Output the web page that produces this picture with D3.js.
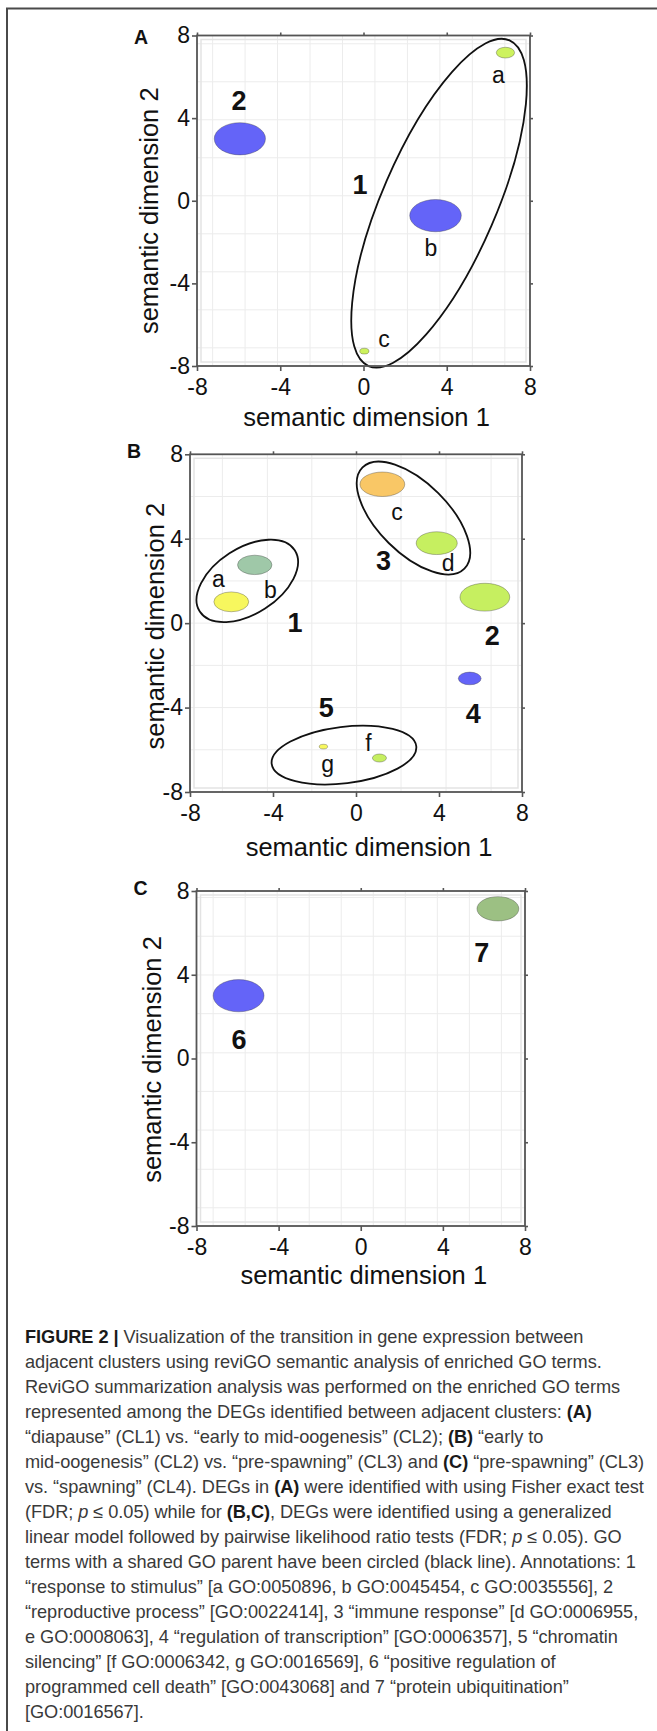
<!DOCTYPE html>
<html>
<head>
<meta charset="utf-8">
<script src="https://cdn.jsdelivr.net/npm/d3@7"></script>
<style>
  body { margin: 0; background: #fff; }
  svg { display: block; }
  text { font-family: "Liberation Sans", Arial, Helvetica, sans-serif; }
</style>
</head>
<body>
<div id="chart"></div>
<script>
const ticks = [-8, -4, 0, 4, 8];
const xTitle = "semantic dimension 1";
const yTitle = "semantic dimension 2";

// ---- panel A: CL1 vs CL2
const aTermX = [6.82, 3.46, 0.04, -5.94];
const aTermY = [7.17, -0.72, -7.28, 3.0];
const aTermW = [0.44, 1.24, 0.22, 1.23];   // bubble half width (semantic units)
const aTermH = [0.26, 0.78, 0.14, 0.78];   // bubble half height
const aColors = ["#cdf25e", "#6464f8", "#cdf25e", "#6464f8"];
const aLabels = ["a", "b", "c", "1", "2"];
const aLabelX = [6.48, 3.24, 0.99, -0.17, -5.98];
const aLabelY = [6.0, -2.28, -6.78, 0.78, 4.85];
const aGroupX = [3.63], aGroupY = [-0.12];
const aGroupA = [8.56], aGroupB = [2.75], aGroupTilt = [66.6];
const aGridX = [-7.25, -5.69, -4.13, -2.57, -1.01, 0.55, 2.11, 3.67, 5.23, 6.79];
const aGridY = [7.6, 5.76, 3.92, 2.08, 0.24, -1.6, -3.44, -5.28, -7.12];

// ---- panel B: CL2 vs CL3
const bTermX = [1.27, 3.89, 6.21, 5.48, -4.88, -6.01, -1.57, 1.13];
const bTermY = [6.58, 3.79, 1.23, -2.62, 2.76, 1.01, -5.85, -6.39];
const bTermW = [1.08, 0.99, 1.2, 0.55, 0.83, 0.84, 0.2, 0.34];
const bTermH = [0.58, 0.54, 0.66, 0.3, 0.46, 0.47, 0.11, 0.19];
const bColors = ["#f9c766", "#c6ef60", "#c6ef60", "#6464f8", "#9fc8a8", "#f7f75e", "#f7f75e", "#c6ef60"];
const bLabels = ["a", "b", "c", "d", "f", "g", "1", "2", "3", "4", "5"];
const bLabelX = [-6.63, -4.13, 1.98, 4.44, 0.6, -1.37, -2.94, 6.57, 1.33, 5.65, -1.43];
const bLabelY = [2.0, 1.58, 5.2, 2.87, -5.65, -6.89, 0.05, -0.58, 2.97, -4.26, -3.97];
const bGroupX = [-5.24, 2.77, -0.58], bGroupY = [2.0, 4.98, -6.25];
const bGroupA = [2.7, 3.43, 3.48], bGroupB = [1.57, 1.68, 1.35], bGroupTilt = [32.8, -44.8, 7];
const bGridX = [-6.44, -4.27, -2.13, 0.03, 2.17, 4.34, 6.51];
const bGridY = [6, 4, 2, 0, -2, -4, -6];

// ---- panel C: CL3 vs CL4
const cTermX = [6.68, -5.95];
const cTermY = [7.15, 3.0];
const cTermW = [1.02, 1.24];
const cTermH = [0.58, 0.77];
const cColors = ["#9cc083", "#6464f8"];
const cLabels = ["7", "6"];
const cLabelX = [5.9, -5.93];
const cLabelY = [5.08, 0.93];
const cGridX = [-7.19, -5.63, -4.07, -2.51, -0.95, 0.61, 2.17, 3.73, 5.29, 6.85];
const cGridY = [7.69, 5.84, 3.99, 2.14, 0.27, -1.57, -3.42, -5.29, -7.13];

const width = 657, height = 1731;

const svg = d3.select("#chart").append("svg")
    .attr("width", width)
    .attr("height", height);

svg.append("rect").attr("width", width).attr("height", height).attr("fill", "#fff");

// page frame (left + top edge only, image is cropped)
svg.append("path")
    .attr("d", "M7," + height + "V8.5H" + width)
    .attr("fill", "none")
    .attr("stroke", "#4a4a4a")
    .attr("stroke-width", 2);

const panels = [
    {
        letter: "A", box: [197, 530, 35.5, 366],
        tx: aTermX, ty: aTermY, tw: aTermW, th: aTermH, colors: aColors,
        labels: aLabels, lx: aLabelX, ly: aLabelY,
        gx: aGroupX, gy: aGroupY, ga: aGroupA, gb: aGroupB, gt: aGroupTilt,
        gridX: aGridX, gridY: aGridY,
        yTitleGap: 39, yTitleShift: 10, xTitleShift: 3, xTitleGap: 60
    },
    {
        letter: "B", box: [190, 522, 454.3, 792],
        tx: bTermX, ty: bTermY, tw: bTermW, th: bTermH, colors: bColors,
        labels: bLabels, lx: bLabelX, ly: bLabelY,
        gx: bGroupX, gy: bGroupY, ga: bGroupA, gb: bGroupB, gt: bGroupTilt,
        gridX: bGridX, gridY: bGridY,
        yTitleGap: 26, yTitleShift: 3, xTitleShift: 13, xTitleGap: 64
    },
    {
        letter: "C", box: [196.5, 525, 891, 1226],
        tx: cTermX, ty: cTermY, tw: cTermW, th: cTermH, colors: cColors,
        labels: cLabels, lx: cLabelX, ly: cLabelY,
        gx: [], gy: [], ga: [], gb: [], gt: [],
        gridX: cGridX, gridY: cGridY,
        yTitleGap: 35.5, yTitleShift: 1, xTitleShift: 3, xTitleGap: 58
    }
];

// vertical offset for centring a glyph on its point
function glyphDy(s) {
    if (!isNaN(+s)) return "0.36em";
    if ("bdf".includes(s)) return "0.37em";
    if (s === "g") return "0.16em";
    return "0.27em";
}

panels.forEach(function (p) {
    const [left, right, top, bottom] = p.box;
    const x = d3.scaleLinear().domain([-8, 8]).range([left, right]);
    const y = d3.scaleLinear().domain([-8, 8]).range([bottom, top]);
    const k = ((x(1) - x(0)) + (y(0) - y(1))) / 2;

    const g = svg.append("g");

    // grid
    g.selectAll(".gx").data(p.gridX).enter().append("line")
        .attr("x1", d => x(d)).attr("x2", d => x(d))
        .attr("y1", top).attr("y2", bottom)
        .attr("stroke", "#ececec").attr("stroke-width", 1);
    g.selectAll(".gy").data(p.gridY).enter().append("line")
        .attr("x1", left).attr("x2", right)
        .attr("y1", d => y(d)).attr("y2", d => y(d))
        .attr("stroke", "#ececec").attr("stroke-width", 1);

    // inner panel border
    g.append("rect")
        .attr("x", left + 4).attr("y", top + 4)
        .attr("width", right - left - 8).attr("height", bottom - top - 8)
        .attr("fill", "none").attr("stroke", "#e3e3e3").attr("stroke-width", 1.5);

    // term bubbles
    const idx = d3.range(p.tx.length);
    g.selectAll(".term").data(idx).enter().append("ellipse")
        .attr("cx", i => x(p.tx[i]))
        .attr("cy", i => y(p.ty[i]))
        .attr("rx", i => p.tw[i] * (x(1) - x(0)))
        .attr("ry", i => p.th[i] * (y(0) - y(1)))
        .attr("fill", i => p.colors[i])
        .attr("stroke", "rgba(60,60,60,0.45)")
        .attr("stroke-width", 0.8);

    // shared GO parent outlines
    g.selectAll(".grp").data(d3.range(p.gx.length)).enter().append("ellipse")
        .attr("cx", i => x(p.gx[i]))
        .attr("cy", i => y(p.gy[i]))
        .attr("rx", i => p.ga[i] * k)
        .attr("ry", i => p.gb[i] * k)
        .attr("transform", i => "rotate(" + (-p.gt[i]) + "," + x(p.gx[i]) + "," + y(p.gy[i]) + ")")
        .attr("fill", "none")
        .attr("stroke", "#111")
        .attr("stroke-width", 1.8);

    // labels
    g.selectAll(".lab").data(p.labels).enter().append("text")
        .attr("x", (d, i) => x(p.lx[i]))
        .attr("y", (d, i) => y(p.ly[i]))
        .attr("dy", d => glyphDy(d))
        .attr("text-anchor", "middle")
        .style("font-size", d => isNaN(+d) ? "23px" : "27px")
        .style("font-weight", d => isNaN(+d) ? "normal" : "bold")
        .attr("fill", "#111")
        .text(d => d);

    // axes on four sides
    const fmt = d => String(d);
    const axes = [
        [d3.axisLeft(y), "translate(" + left + ",0)", true, 2],
        [d3.axisBottom(x), "translate(0," + bottom + ")", true, 8],
        [d3.axisRight(y), "translate(" + right + ",0)", false, 2],
        [d3.axisTop(x), "translate(0," + top + ")", false, 2]
    ];
    axes.forEach(function ([ax, tr, withLabels, pad]) {
        const a = g.append("g").attr("transform", tr)
            .call(ax.tickValues(ticks).tickSize(withLabels ? 5 : 3).tickPadding(pad).tickFormat(fmt));
        a.select(".domain").remove();
        a.selectAll(".tick line").attr("stroke", "#555").attr("stroke-width", 1.6);
        if (withLabels) {
            a.selectAll(".tick text").attr("fill", "#111").style("font-size", "23px");
        } else {
            a.selectAll(".tick text").remove();
        }
    });

    // axis box
    g.append("rect")
        .attr("x", left).attr("y", top)
        .attr("width", right - left).attr("height", bottom - top)
        .attr("fill", "none").attr("stroke", "#555").attr("stroke-width", 1.8);

    // titles
    g.append("text")
        .attr("x", (left + right) / 2 + p.xTitleShift)
        .attr("y", bottom + p.xTitleGap)
        .attr("text-anchor", "middle")
        .style("font-size", "25.5px")
        .attr("fill", "#111")
        .text(xTitle);

    const yc = (top + bottom) / 2 + p.yTitleShift;
    g.append("text")
        .attr("transform", "translate(" + (left - p.yTitleGap) + "," + yc + ") rotate(-90)")
        .attr("text-anchor", "middle")
        .style("font-size", "25.5px")
        .attr("fill", "#111")
        .text(yTitle);

    g.append("text")
        .attr("x", left - 63)
        .attr("y", top + (p.letter === "A" ? 8 : 4))
        .style("font-size", "19.5px")
        .style("font-weight", "bold")
        .attr("fill", "#111")
        .text(p.letter);
});

// ---- caption, line by line as set in the figure (**bold**, _italic_)
const captionLines = [
    "**FIGURE 2 |** Visualization of the transition in gene expression between",
    "adjacent clusters using reviGO semantic analysis of enriched GO terms.",
    "ReviGO summarization analysis was performed on the enriched GO terms",
    "represented among the DEGs identified between adjacent clusters: **(A)**",
    "“diapause” (CL1) vs. “early to mid-oogenesis” (CL2); **(B)** “early to",
    "mid-oogenesis” (CL2) vs. “pre-spawning” (CL3) and **(C)** “pre-spawning” (CL3)",
    "vs. “spawning” (CL4). DEGs in **(A)** were identified with using Fisher exact test",
    "(FDR; _p_ ≤ 0.05) while for **(B,C)**, DEGs were identified using a generalized",
    "linear model followed by pairwise likelihood ratio tests (FDR; _p_ ≤ 0.05). GO",
    "terms with a shared GO parent have been circled (black line). Annotations: 1",
    "“response to stimulus” [a GO:0050896, b GO:0045454, c GO:0035556], 2",
    "“reproductive process” [GO:0022414], 3 “immune response” [d GO:0006955,",
    "e GO:0008063], 4 “regulation of transcription” [GO:0006357], 5 “chromatin",
    "silencing” [f GO:0006342, g GO:0016569], 6 “positive regulation of",
    "programmed cell death” [GO:0043068] and 7 “protein ubiquitination”",
    "[GO:0016567]."
];

const cap = svg.append("g");
const capTexts = captionLines.map(function (line, i) {
    const t = cap.append("text")
        .attr("x", 25)
        .attr("y", 1343 + i * 25)
        .style("font-size", "18.2px")
        .attr("fill", "#3a3a3a");
    line.split(/(\*\*[^*]+\*\*|_[^_]+_)/).filter(s => s.length).forEach(function (seg) {
        const ts = t.append("tspan");
        if (seg.startsWith("**")) {
            ts.text(seg.slice(2, -2)).style("font-weight", "bold").attr("fill", "#1a1a1a");
        } else if (seg.startsWith("_")) {
            ts.text(seg.slice(1, -1)).style("font-style", "italic");
        } else {
            ts.text(seg);
        }
    });
    return t;
});

// the widest line (6th) runs to about x = 644 in the figure; tighten tracking to suit
const widest = capTexts[5];
const natural = widest.node().getComputedTextLength();
const nChars = widest.text().length;
const spacing = Math.min(0, (619 - natural) / nChars);
cap.selectAll("text").style("letter-spacing", spacing + "px");
</script>
</body>
</html>
